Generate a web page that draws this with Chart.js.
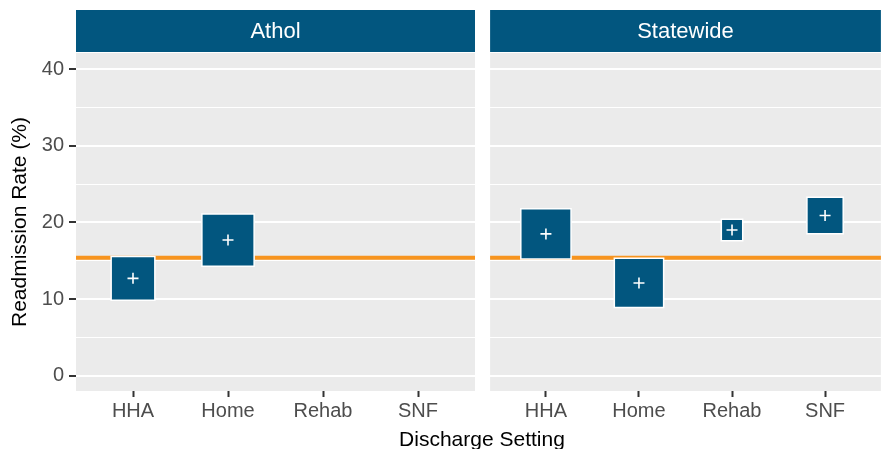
<!DOCTYPE html>
<html>
<head>
<meta charset="utf-8">
<script src="https://cdn.jsdelivr.net/npm/chart.js@4.4.0/dist/chart.umd.min.js"></script>
<style>
  body { margin: 0; background: #fff; width: 888px; height: 449px; overflow: hidden; position: relative; font-family: "Liberation Sans", Arial, sans-serif; }
  canvas { position: absolute; top: 0; }
  #athol { left: 0; }
  #statewide { left: 483px; }
  #xtitle { position: absolute; left: 282px; width: 400px; top: 428px; text-align: center; font-size: 21px; line-height: 21px; color: #000; white-space: nowrap; }
</style>
</head>
<body>
<canvas id="athol" width="483" height="449"></canvas>
<canvas id="statewide" width="405" height="449"></canvas>
<div id="xtitle">Discharge Setting</div>
<script>
const categories = ['HHA', 'Home', 'Rehab', 'SNF'];
const statewideAverage = 15.4;

// Athol has no Rehab / SNF discharges
const atholRate = [12.7, 17.7, null, null];
const atholBoxSize = [0.46, 0.55, null, null];   // share of a category slot

const statewideRate = [18.5, 12.1, 19.0, 20.9];
const statewideBoxSize = [0.54, 0.53, 0.23, 0.39];

const yTicks = [0, 10, 20, 30, 40];
const yMinor = [5, 15, 25, 35];

const fontFamily = '"Liberation Sans", Arial, sans-serif';
const blue = '#02567F';
const orange = '#F7941E';

function toPoints(rates) {
    return rates.map((v, i) => ({ x: i + 1, y: v }));
}

function boxRadius(sizes) {
    return function(ctx) {
        const s = sizes[ctx.dataIndex];
        if (s == null) return 0;
        const x = ctx.chart.scales.x;
        const side = s * (x.getPixelForValue(2) - x.getPixelForValue(1));
        return side / 2 / Math.SQRT1_2;
    };
}

const panelPlugin = {
    id: 'panel',
    beforeDraw(chart, args, opts) {
        const ctx = chart.ctx;
        const a = chart.chartArea;
        ctx.save();
        ctx.fillStyle = '#EBEBEB';
        ctx.fillRect(a.left, a.top, a.right - a.left, a.bottom - a.top);
        ctx.fillStyle = blue;
        ctx.fillRect(a.left, a.top - 43, a.right - a.left, 42);
        ctx.fillStyle = '#FFFFFF';
        ctx.font = '22px ' + fontFamily;
        ctx.textAlign = 'center';
        ctx.textBaseline = 'middle';
        ctx.fillText(opts.title, (a.left + a.right) / 2, a.top - 21.5);
        ctx.restore();
    },
    beforeDatasetsDraw(chart) {
        const ctx = chart.ctx;
        const a = chart.chartArea;
        const y = chart.scales.y.getPixelForValue(statewideAverage);
        ctx.save();
        ctx.strokeStyle = orange;
        ctx.lineWidth = 4;
        ctx.beginPath();
        ctx.moveTo(a.left, y);
        ctx.lineTo(a.right, y);
        ctx.stroke();
        ctx.restore();
    }
};

function makeChart(id, facet, rates, sizes, isLeft) {
    const pts = toPoints(rates);
    return new Chart(document.getElementById(id), {
        type: 'scatter',
        data: {
            datasets: [{
                label: facet + ' rate',
                data: pts,
                pointStyle: 'cross',
                pointRadius: 5.5,
                pointBorderColor: '#FFFFFF',
                pointBorderWidth: 1.6,
                order: 0
            }, {
                label: facet,
                data: pts,
                pointStyle: 'rect',
                pointRadius: boxRadius(sizes),
                pointBackgroundColor: blue,
                pointBorderColor: '#FFFFFF',
                pointBorderWidth: 1.5,
                order: 1
            }]
        },
        plugins: [panelPlugin],
        options: {
            responsive: false,
            animation: false,
            events: [],
            layout: { padding: { top: 53, right: isLeft ? 8 : 0, left: 0, bottom: 0 } },
            plugins: {
                legend: { display: false },
                tooltip: { enabled: false },
                panel: { title: facet }
            },
            scales: {
                x: {
                    type: 'linear',
                    min: 0.4,
                    max: 4.6,
                    afterBuildTicks: s => { s.ticks = categories.map((c, i) => ({ value: i + 1 })); },
                    afterFit: s => { s.height = 58; },
                    border: { display: false },
                    grid: { drawOnChartArea: false, drawTicks: true, tickLength: 6, tickColor: '#333333', tickWidth: 2 },
                    ticks: {
                        autoSkip: false,
                        maxRotation: 0,
                        padding: 2,
                        color: '#4D4D4D',
                        font: { family: fontFamily, size: 20 },
                        callback: v => categories[v - 1]
                    }
                },
                y: {
                    min: -2.0,
                    max: 42.1,
                    afterBuildTicks: s => {
                        s.ticks = yTicks.concat(yMinor).sort((p, q) => p - q).map(v => ({ value: v }));
                    },
                    afterFit: s => { s.width = isLeft ? 76 : 7; },
                    border: { display: false },
                    grid: {
                        color: '#FFFFFF',
                        lineWidth: c => (c.tick && yTicks.includes(c.tick.value)) ? 2 : 1,
                        drawTicks: isLeft,
                        tickLength: 7,
                        tickWidth: 2,
                        tickColor: c => (c.tick && yTicks.includes(c.tick.value)) ? '#333333' : 'rgba(0,0,0,0)'
                    },
                    ticks: {
                        display: isLeft,
                        autoSkip: false,
                        padding: 5,
                        color: '#4D4D4D',
                        font: { family: fontFamily, size: 20 },
                        callback: v => yTicks.includes(v) ? String(v) : ''
                    },
                    title: {
                        display: isLeft,
                        text: 'Readmission Rate (%)',
                        color: '#000000',
                        font: { family: fontFamily, size: 21 },
                        padding: { top: 8, bottom: 0 }
                    }
                }
            }
        }
    });
}

window.onload = function() {
    makeChart('athol', 'Athol', atholRate, atholBoxSize, true);
    makeChart('statewide', 'Statewide', statewideRate, statewideBoxSize, false);
};
</script>
</body>
</html>
